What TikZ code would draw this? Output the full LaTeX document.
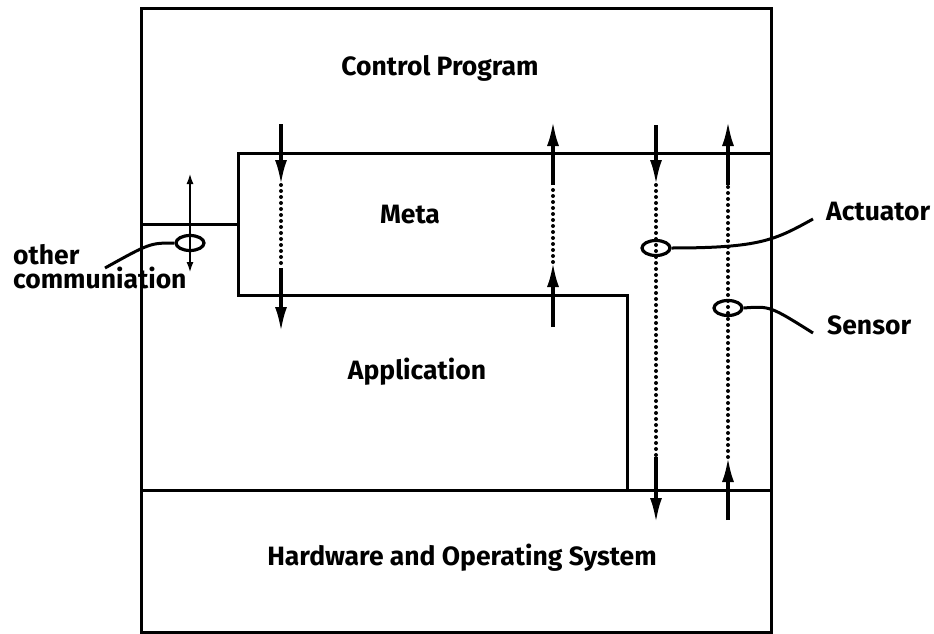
\documentclass[tikz,border=0pt]{standalone}
\usepackage{fontspec}
\setmainfont{Fira Sans}
\usetikzlibrary{arrows.meta,shapes.geometric}

\begin{document}
\begin{tikzpicture}[
    x=1pt, y=-1pt,
    font=\fontsize{26.5}{24}\selectfont\bfseries,
    wall/.style={line width=3pt},
    sig/.style={-{Latex[length=25pt,width=12pt]},line width=3.6pt},
    twoway/.style={{Latex[length=11pt,width=7pt]}-{Latex[length=11pt,width=7pt]},line width=2.8pt},
    trace/.style={line width=4pt,line cap=round,dash pattern=on 0pt off 6pt},
    tap/.style={draw,ellipse,line width=3.2pt,minimum width=28pt,minimum height=15pt,inner sep=0pt},
    lead/.style={line width=3pt},
    layer/.style={inner sep=0pt}
  ]
    \useasboundingbox (0,0) rectangle (934,634);

    % Frame and layer boundaries
    \draw[wall] (141,9) rectangle (771,632);
    \draw[wall] (141,490) -- (771,490);
    \draw[wall] (771,153) -- (238,153) -- (238,295) -- (627,295) -- (627,490);
    \draw[wall] (141,224) -- (238,224);

    % Layer names
    \node[layer] (ctl) at (440,68) {Control Program};
    \node[layer] (meta) at (410,215) {Meta};
    \node[layer] (app) at (417,372) {Application};
    \node[layer] (hw) at (462,558) {Hardware and Operating System};

    % Control <-> Meta <-> Application
    \coordinate (d1a) at (281,124);
    \coordinate (d1b) at (281,185);
    \coordinate (d1c) at (281,268);
    \coordinate (d1d) at (281,332);
    \draw[sig] (d1a) -- (d1b);
    \draw[trace] (d1b) -- (d1c);
    \draw[sig] (d1c) -- (d1d);

    \coordinate (u1a) at (553,327);
    \coordinate (u1b) at (553,262);
    \coordinate (u1c) at (553,185);
    \coordinate (u1d) at (553,121);
    \draw[sig] (u1a) -- (u1b);
    \draw[trace] (u1b) -- (u1c);
    \draw[sig] (u1c) -- (u1d);

    % Actuator and sensor paths down to the hardware
    \coordinate (d2a) at (656,125);
    \coordinate (d2b) at (656,185);
    \coordinate (d2c) at (656,457);
    \coordinate (d2d) at (656,523);
    \draw[sig] (d2a) -- (d2b);
    \draw[trace] (d2b) -- (d2c);
    \draw[sig] (d2c) -- (d2d);

    \coordinate (u2a) at (728,520);
    \coordinate (u2b) at (728,457);
    \coordinate (u2c) at (728,185);
    \coordinate (u2d) at (728,121);
    \draw[sig] (u2a) -- (u2b);
    \draw[trace] (u2b) -- (u2c);
    \draw[sig] (u2c) -- (u2d);

    % Other communication
    \coordinate (oca) at (190,173);
    \coordinate (ocb) at (190,273);
    \draw[twoway] (oca) -- (ocb);

    % Taps and their labels
    \node[tap] (octap) at (190,243) {};
    \node[tap] (acttap) at (656,248) {};
    \node[tap] (sentap) at (728,308) {};

    \node[anchor=north west,inner sep=0pt,align=left] (oclbl) at (13,244) {other\\communiation};
    \node[anchor=west,inner sep=0pt] (actlbl) at (826,212) {Actuator};
    \node[anchor=west,inner sep=0pt] (senlbl) at (827,325) {Sensor};

    \coordinate (ocend) at (105,268);
    \coordinate (actend) at (813,219);
    \coordinate (senend) at (813,333);
    \draw[lead] (octap.west) .. controls (150,243) .. (ocend);
    \draw[lead] (acttap.east) .. controls (760,248) and (775,240) .. (actend);
    \draw[lead] (sentap.east) .. controls (770,306) .. (senend);
\end{tikzpicture}
\end{document}
